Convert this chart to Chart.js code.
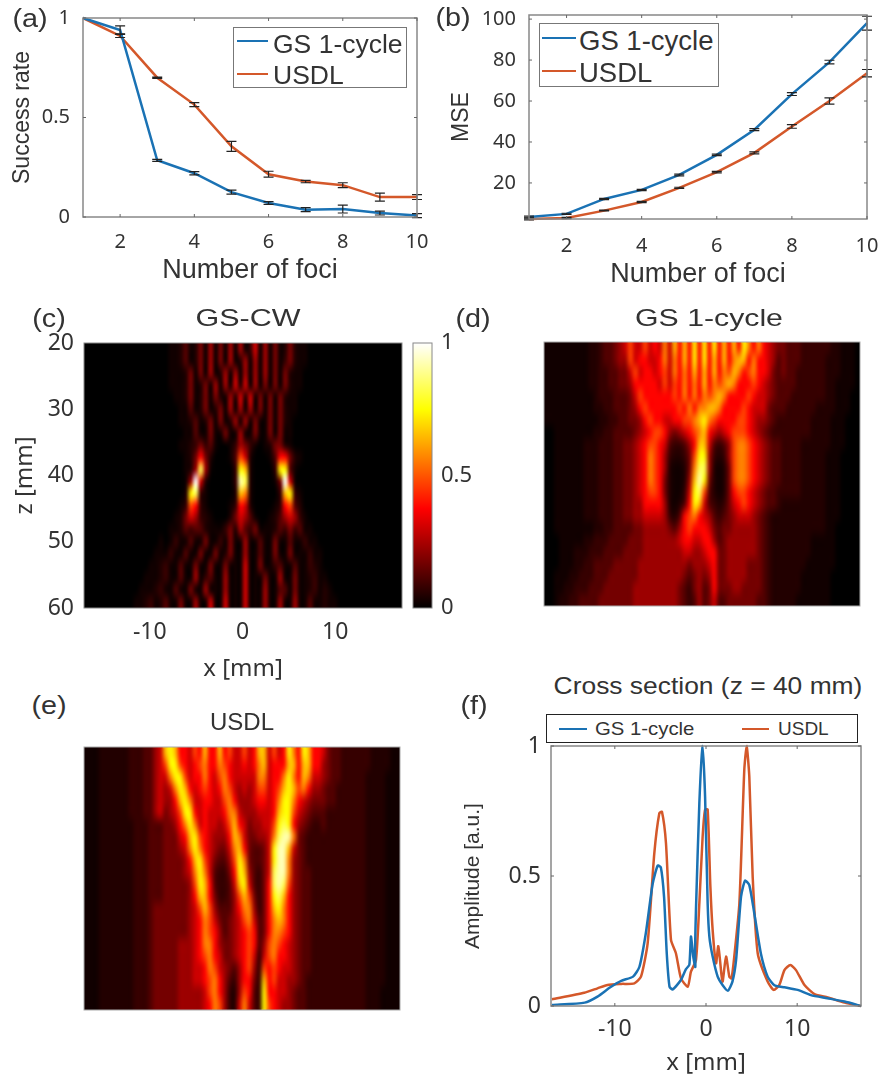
<!DOCTYPE html>
<html lang="en">
<head>
  <meta charset="UTF-8" />
  <title>Multi-foci beam patterns</title>
  <script src="https://cdn.jsdelivr.net/npm/chart.js"></script>
  <style>
    body { margin: 0; background: #fff; overflow: hidden; }
    #figure { position: relative; width: 883px; height: 1080px; color: #333; font-family: 'Liberation Sans', sans-serif; overflow: hidden; }
    #figure canvas { position: absolute; }
    .txt { position: absolute; white-space: nowrap; line-height: 1; }
    .legend { position: absolute; box-sizing: border-box; background: #fff; }
    .swatch { position: absolute; }
  </style>
</head>
<body>
  <div id="figure"></div>

  <script>
    // (a) success rate and (b) MSE against number of foci
    const fociCounts = [1, 2, 3, 4, 5, 6, 7, 8, 9, 10];
    const fociTicks = [2, 4, 6, 8, 10];

    const rateTicks = [0, 0.5, 1];
    const rateGs = [1, 0.94, 0.285, 0.22, 0.125, 0.07, 0.037, 0.04, 0.02, 0.007];
    const rateGsErr = [0, 0.02, 0.005, 0.008, 0.01, 0.007, 0.01, 0.02, 0.01, 0.01];
    const rateUsdl = [1, 0.91, 0.70, 0.565, 0.355, 0.215, 0.178, 0.16, 0.1, 0.1];
    const rateUsdlErr = [0, 0.008, 0.003, 0.01, 0.025, 0.015, 0.006, 0.012, 0.02, 0.012];

    const mseTicks = [20, 40, 60, 80, 100];
    const mseGs = [3.4, 4.9, 12.2, 16.6, 23.9, 33.7, 46, 63.4, 79, 98];
    const mseGsErr = [0.4, 0.3, 0.3, 0.3, 0.4, 0.4, 0.5, 0.7, 0.9, 3.4];
    const mseUsdl = [2.4, 2.9, 6.5, 10.7, 17.6, 25.3, 34.7, 47.6, 60, 73.6];
    const mseUsdlErr = [0.4, 0.3, 0.2, 0.3, 0.3, 0.4, 0.5, 0.9, 1.5, 1.8];

    // (c)(d)(e) field maps, one string per z row, one hex digit per x column.
    // A digit is an index into mapLevels, finer near zero where the dark reds sit.
    const mapLevels = [0, 0.025, 0.05, 0.08, 0.12, 0.17, 0.23, 0.3, 0.38, 0.47, 0.56, 0.65, 0.74, 0.83, 0.92, 1];
    const cwRows = [
      "00000000 00000000 01124125 16151616 13716151 25211000 00000000 00000000",
      "00000000 00000000 01124125 16151612 61616151 35211000 00000000 00000000",
      "00000000 00000000 01112515 16126161 61616151 52110000 00000000 00000000",
      "00000000 00000000 01112512 51616172 71615151 52110000 00000000 00000000",
      "00000000 00000000 00112512 51521627 27151515 21100000 00000000 00000000",
      "00000000 00000000 00011412 51251616 16151515 21100000 00000000 00000000",
      "00000000 00000000 00011241 25151261 61511515 21000000 00000000 00000000",
      "00000000 00000000 00001141 15115116 11511515 11000000 00000000 00000000",
      "00000000 00000000 00011235 34100136 53101255 21000000 00000000 00000000",
      "00000000 00000000 00001258 52000149 72000148 85210000 00000000 00000000",
      "00000000 00000000 0000126d 6100003c b200003c c4100000 00000000 00000000",
      "00000000 00000000 000016f7 2000003e d2000015 f7100000 00000000 00000000",
      "00000000 00000000 00002cd3 1000002b a2000003 bc310000 00000000 00000000",
      "00000000 00000000 00013983 10000138 72000013 89420000 00000000 00000000",
      "00000000 00000000 00125763 21000257 64100124 67631000 00000000 00000000",
      "00000000 00000000 01124344 21113526 43511124 35341100 00000000 00000000",
      "00000000 00000001 01311411 51131511 61141151 14113110 00000000 00000000",
      "00000000 00000011 13114115 11512511 61141151 15111311 00000000 00000000",
      "00000000 00000112 31141151 15115111 71151134 11411321 00000000 00000000",
      "00000000 00001112 31141161 34116111 71115116 11511231 10000000 00000000",
      "00000000 00011123 11411511 61116111 71116114 41511231 21000000 00000000",
      "00000000 00112312 41151161 17117111 71116116 11611411 21100000 00000000"
    ];
    const gsRows = [
      "11111111 12234456 79779787 a7b8b8c8 c8c8b8b8 ca8a8765 54443333 33221110",
      "11111111 12234456 69788778 a7a8b8c8 c8b8b8ab b8a88764 54443333 32221110",
      "11111111 12233445 57978878 97a8a8b8 b8b8a9ba 89a88754 54433333 32221110",
      "11111111 12233445 56888887 9798a8a8 b8a9aba8 88987654 44433333 32211110",
      "11111111 11233344 45798888 8898a8a8 a9aba888 89877654 44333333 32211100",
      "11111111 11223344 45689888 88898a8a abba8888 98777544 43333332 22211100",
      "11111111 11122334 45568988 778899ab ca988889 98766543 33333322 22111000",
      "00111111 11223344 44567899 8656789a b8767899 98765433 33333322 22111000",
      "00111111 22233344 55678998 7433468b b743469a a9876544 33332222 22111000",
      "00111111 22233344 55678a98 6322359c c632369a a9876544 33332222 21110000",
      "00111111 22233344 55678a98 621125ad d621259a a9876544 33332222 21110000",
      "00111111 22233344 55678a98 521126be c521259a a9876544 33332222 21110000",
      "00111111 22233344 55678998 521137cd 94212589 98765443 33332222 21110000",
      "00111111 22233344 55668888 621248cb 74323578 98765443 22222222 21110000",
      "00111111 22233344 55667777 632489a8 76434567 77654322 22222222 21110000",
      "00111111 11223344 44556666 65468988 87545566 66654322 22222222 21100000",
      "00011111 22333444 45556666 66678877 88645666 66654322 22222211 11100000",
      "00011122 23334444 55556666 66667766 78855666 66654322 22222211 11100000",
      "00011122 33444455 55566666 66666566 67855666 65554322 22222111 11100000",
      "00111223 33444555 55566666 66665456 56855666 65554322 22221111 11000000",
      "00112233 34445555 55666666 66654356 45855566 55554322 22221111 11000000",
      "00122334 44455555 55666666 66654346 45744555 55544322 22211111 11000000"
    ];
    const usdlRows = [
      "11122222 23334467 bcb88798 b88b8977 978bb797 8ca8cb88 75443333 33222211",
      "11122222 23334467 9cc98789 a88a9877 878ab788 8bb8bb88 65443333 33222211",
      "11122222 23334467 7acc9788 a879a877 777aa788 aca8ba77 65443333 32222111",
      "11122222 23334467 67acb878 9878a976 76799789 bcb9a866 54433333 32222111",
      "11122222 23334467 668bca77 88779a86 6678878a cca87655 54433333 32222111",
      "11122222 23334467 5679cc87 87778aa7 6667778b cc976544 43333333 32222111",
      "11122222 22333444 5568aca7 877679b8 7566779c dc865433 43333333 32222111",
      "11122222 22333444 55578bc9 876668ba 755667ad eea54333 33333333 32222111",
      "11122222 22333444 55567aca 876557ab 854457ce eb754333 33333333 32222111",
      "11122222 22333444 555568bc 9754469c a54457ce ea654333 33333333 32222111",
      "11122222 22333444 555567ac a743358c b64357de ea654433 33333333 32222111",
      "11122222 22333444 5555569c b843347b c74358de d9654433 33333333 32222111",
      "11122222 22333444 5555568b b8533469 b95358cd b8654433 33333333 32222111",
      "11122222 22333455 55555679 b9644468 aa6358bc a8654433 33333333 32222111",
      "11122222 22333455 55555678 a9754567 9a7458ab a8654433 33333333 32222111",
      "11122222 22333455 55555678 a9864567 898458aa 98654433 33333333 32222111",
      "11122222 22333455 55566678 aa865567 898469a9 87654433 33333333 32222111",
      "11122222 22333455 55566678 9a875567 897379a8 87654433 33333333 32222111",
      "11122222 22333455 55566677 8a976546 89639898 77654433 33333333 32222111",
      "11122222 22333455 55566677 89a86436 8853b897 76654333 33333333 32222111",
      "11122222 22333455 55566666 79a86326 9843c887 76544333 33333333 32221111",
      "11122222 22333455 55566666 78a96327 a743c987 66544333 33333333 32221111"
    ];
    const mapXTicks = [-10, 0, 10];
    const mapZTicks = [20, 30, 40, 50, 60];
    const colorbarTicks = [0, 0.5, 1];

    // (f) cross section at z = 40 mm
    const sectionXTicks = [-10, 0, 10];
    const sectionYTicks = [0, 0.5, 1];
    const sectionGsX = [-16.9, -13.3, -11.9, -10.5, -9.3, -8, -7.3, -6.6, -5.85, -5.3, -4.95, -4.6, -4.3, -4, -3.65, -2.75, -2.2, -1.83, -1.65, -1.4, -1.17, -1.2, -1.1, -0.73, -0.37, -0.1, 0.18, 0.37, 0.73, 1.28, 1.83, 2.4, 2.9, 3.3, 3.84, 4.28, 4.75, 5.3, 6.03, 6.76, 7.5, 8.6, 10.05, 11.5, 13.3, 15.2, 17];
    const sectionGsY = [0.004, 0.013, 0.036, 0.072, 0.097, 0.113, 0.151, 0.28, 0.47, 0.54, 0.533, 0.42, 0.2, 0.074, 0.064, 0.1, 0.142, 0.158, 0.267, 0.19, 0.15, 0.22, 0.37, 0.78, 1, 0.805, 0.395, 0.267, 0.19, 0.113, 0.08, 0.059, 0.094, 0.177, 0.42, 0.482, 0.465, 0.356, 0.2, 0.113, 0.08, 0.072, 0.062, 0.042, 0.03, 0.017, 0];
    const sectionUsdlX = [-16.9, -13.35, -11.9, -10.8, -9.3, -7.86, -7.13, -6.4, -5.67, -5.12, -4.83, -4.39, -3.84, -3.3, -2.74, -2, -1.65, -1.1, -0.73, -0.37, -0.11, 0.18, 0.48, 0.73, 1.1, 1.35, 1.72, 1.83, 2.2, 2.56, 2.8, 3.1, 3.66, 4.2, 4.46, 4.75, 5.12, 5.67, 6.76, 7.42, 8.04, 8.6, 9.25, 9.87, 10.8, 11.9, 13.35, 15.2, 17];
    const sectionUsdlY = [0.026, 0.051, 0.068, 0.081, 0.085, 0.087, 0.113, 0.241, 0.587, 0.741, 0.747, 0.626, 0.254, 0.203, 0.106, 0.074, 0.132, 0.177, 0.395, 0.651, 0.754, 0.756, 0.459, 0.292, 0.164, 0.23, 0.113, 0.094, 0.19, 0.113, 0.106, 0.19, 0.395, 0.908, 1, 0.882, 0.497, 0.203, 0.094, 0.062, 0.081, 0.138, 0.158, 0.138, 0.081, 0.046, 0.033, 0.013, 0];

    const BLUE = '#1a72b4';
    const ORANGE = '#d4582a';
    const figure = document.getElementById('figure');

    // Matlab "hot" colormap
    function hot(v) {
      const c = (a, b) => Math.round(255 * Math.min(1, Math.max(0, (v - a) / (b - a))));
      return `rgb(${c(0, 0.375)},${c(0.375, 0.75)},${c(0.75, 1)})`;
    }

    // Plot frame with small inward ticks on every side
    const framePlugin = {
      id: 'frame',
      afterDraw(chart, args, opts) {
        const { ctx, chartArea: a, scales } = chart;
        ctx.save();
        ctx.strokeStyle = opts.color || '#888';
        ctx.lineWidth = opts.width || 1.5;
        ctx.strokeRect(a.left, a.top, a.right - a.left, a.bottom - a.top);
        if (opts.ticks) {
          ctx.lineWidth = 1;
          ctx.strokeStyle = '#666';
          ctx.beginPath();
          scales.x.ticks.forEach(t => {
            const px = scales.x.getPixelForValue(t.value);
            ctx.moveTo(px, a.bottom); ctx.lineTo(px, a.bottom - 3);
            ctx.moveTo(px, a.top); ctx.lineTo(px, a.top + 3);
          });
          scales.y.ticks.forEach(t => {
            const py = scales.y.getPixelForValue(t.value);
            ctx.moveTo(a.left, py); ctx.lineTo(a.left + 3, py);
            ctx.moveTo(a.right, py); ctx.lineTo(a.right - 3, py);
          });
          ctx.stroke();
        }
        ctx.restore();
      }
    };

    // Error bars read from each dataset's errs array
    const errorBarPlugin = {
      id: 'errorBars',
      afterDatasetsDraw(chart) {
        const { ctx, scales } = chart;
        ctx.save();
        ctx.strokeStyle = '#222';
        ctx.lineWidth = 1.2;
        chart.data.datasets.forEach(ds => {
          ds.data.forEach((p, i) => {
            const e = ds.errs[i];
            if (!e) return;
            const px = scales.x.getPixelForValue(p.x);
            const y0 = scales.y.getPixelForValue(p.y - e);
            const y1 = scales.y.getPixelForValue(p.y + e);
            ctx.beginPath();
            ctx.moveTo(px, y0); ctx.lineTo(px, y1);
            ctx.moveTo(px - 5, y0); ctx.lineTo(px + 5, y0);
            ctx.moveTo(px - 5, y1); ctx.lineTo(px + 5, y1);
            ctx.stroke();
          });
        });
        ctx.restore();
      }
    };

    // The source maps are interpolated images, so soften the drawn cells the same way
    const smoothCellsPlugin = {
      id: 'smoothCells',
      afterDatasetsDraw(chart, args, opts) {
        const { ctx, chartArea: a } = chart;
        const w = a.right - a.left, h = a.bottom - a.top;
        const small = document.createElement('canvas');
        small.width = opts.cols;
        small.height = opts.rows;
        const sctx = small.getContext('2d');
        sctx.imageSmoothingEnabled = false;
        sctx.drawImage(ctx.canvas, a.left, a.top, w, h, 0, 0, opts.cols, opts.rows);
        ctx.save();
        ctx.beginPath();
        ctx.rect(a.left, a.top, w, h);
        ctx.clip();
        ctx.imageSmoothingEnabled = true;
        ctx.imageSmoothingQuality = 'high';
        ctx.filter = `blur(${opts.blur}px)`;
        ctx.drawImage(small, 0, 0, opts.cols, opts.rows, a.left, a.top, w, h);
        ctx.restore();
      }
    };

    // Put a chart on the page so that its plot area lands on box l/t/r/b
    function place(id, box, m, config) {
      const canvas = document.createElement('canvas');
      canvas.id = id;
      canvas.width = box.r - box.l + m.l + m.r;
      canvas.height = box.b - box.t + m.t + m.b;
      canvas.style.left = (box.l - m.l) + 'px';
      canvas.style.top = (box.t - m.t) + 'px';
      figure.appendChild(canvas);
      config.options.responsive = false;
      config.options.animation = false;
      config.options.devicePixelRatio = 1;
      config.options.events = [];
      return new Chart(canvas.getContext('2d'), config);
    }

    function axis(min, max, ticks, opts) {
      const o = opts || {};
      const scale = {
        type: 'linear',
        min, max,
        offset: false,
        reverse: !!o.reverse,
        position: o.position,
        display: o.display !== false,
        grid: { display: false, drawTicks: false },
        border: { display: false },
        ticks: {
          autoSkip: false, maxRotation: 0, padding: o.padding, color: '#333',
          font: { family: "'Noto Sans', sans-serif", size: o.tickSize || 20 },
          callback: v => String(v)
        },
        afterBuildTicks: s => { s.ticks = ticks.map(value => ({ value })); }
      };
      if (o.title) {
        scale.title = { display: true, text: o.title, color: '#333', padding: 0, font: { family: o.titleFamily || "'Liberation Sans', sans-serif", size: o.titleSize } };
      }
      if (o.fit) {
        scale.afterFit = s => {
          if (s.isHorizontal()) s.height = o.fit; else s.width = o.fit;
        };
      }
      return scale;
    }

    function xy(xs, ys) {
      return xs.map((x, i) => ({ x, y: ys[i] }));
    }

    function curveSet(label, xs, ys, errs, color) {
      return { label, data: xy(xs, ys), errs, borderColor: color, backgroundColor: color, borderWidth: 2.5, pointRadius: 0, clip: 6 };
    }

    function linePanel(id, box, m, xPad, yMin, yMax, yTicks, yTitle, gs, gsErr, usdl, usdlErr) {
      place(id, box, m, {
        type: 'line',
        data: { datasets: [
          curveSet('GS 1-cycle', fociCounts, gs, gsErr, BLUE),
          curveSet('USDL', fociCounts, usdl, usdlErr, ORANGE)
        ] },
        options: {
          layout: { padding: { top: m.t, right: m.r } },
          plugins: { legend: { display: false }, frame: { ticks: true } },
          scales: {
            x: axis(1, 10, fociTicks, { title: 'Number of foci', titleSize: 27, fit: m.b, padding: xPad }),
            y: axis(yMin, yMax, yTicks, { title: yTitle, titleSize: 23, fit: m.l, padding: 13 })
          }
        },
        plugins: [framePlugin, errorBarPlugin]
      });
    }

    // Field map: one floating bar per cell, one dataset per z row
    function mapPanel(id, box, m, rows, withAxes, blur) {
      const grid = rows.map(r => r.replace(/\s/g, ''));
      const cols = grid[0].length;
      const rowCount = grid.length;
      const labels = Array.from({ length: cols }, (_, i) => String(i));
      const zMin = mapZTicks[0], zMax = mapZTicks[mapZTicks.length - 1];
      const datasets = grid.map((row, r) => {
        const z0 = zMin + (zMax - zMin) * r / rowCount;
        const z1 = zMin + (zMax - zMin) * (r + 1) / rowCount;
        return {
          data: labels.map(() => [z0, z1]),
          backgroundColor: labels.map((_, c) => hot(mapLevels[parseInt(row[c] || '0', 16)])),
          borderWidth: 0,
          grouped: false,
          barPercentage: 1,
          categoryPercentage: 1,
          xAxisID: 'xCells'
        };
      });
      place(id, box, m, {
        type: 'bar',
        data: { labels, datasets },
        options: {
          layout: { padding: { top: m.t, right: m.r, left: withAxes ? 0 : m.l, bottom: withAxes ? 0 : m.b } },
          plugins: {
            legend: { display: false },
            frame: { color: withAxes ? '#888' : '#aaa', width: 1 },
            smoothCells: { cols, rows: rowCount, blur }
          },
          scales: {
            xCells: { type: 'category', display: false, position: 'bottom', grid: { display: false } },
            x: axis(-17.1, 17.2, mapXTicks, { display: withAxes, title: 'x [mm]', titleFamily: "'Noto Sans', sans-serif", titleSize: 24, tickSize: 23, fit: m.b, padding: 11, position: 'bottom' }),
            y: axis(zMin, zMax, mapZTicks, { display: withAxes, reverse: true, title: 'z [mm]', titleFamily: "'Noto Sans', sans-serif", titleSize: 24, tickSize: 23, fit: m.l, padding: 10 })
          }
        },
        plugins: [smoothCellsPlugin, framePlugin]
      });
    }

    function colorbar(id, box, m) {
      place(id, box, m, {
        type: 'bar',
        data: { labels: ['level'], datasets: [{
          data: [[0, 1]],
          borderWidth: 0,
          barPercentage: 1,
          categoryPercentage: 1,
          backgroundColor: c => {
            const { chartArea, scales, ctx } = c.chart;
            if (!chartArea) return '#000';
            const g = ctx.createLinearGradient(0, scales.y.getPixelForValue(0), 0, scales.y.getPixelForValue(1));
            g.addColorStop(0, '#000');
            g.addColorStop(0.375, '#f00');
            g.addColorStop(0.75, '#ff0');
            g.addColorStop(1, '#fff');
            return g;
          }
        }] },
        options: {
          layout: { padding: { top: m.t, bottom: m.b, left: m.l } },
          plugins: { legend: { display: false }, frame: { color: '#888', width: 1 } },
          scales: {
            x: { display: false, grid: { display: false } },
            y: axis(0, 1, colorbarTicks, { position: 'right', fit: m.r, padding: 9, tickSize: 22 })
          }
        },
        plugins: [framePlugin]
      });
    }

    function text(str, cx, cy, size, stretch, family, anchor) {
      const el = document.createElement('div');
      el.className = 'txt';
      el.textContent = str;
      el.style.left = cx + 'px';
      el.style.top = cy + 'px';
      el.style.fontSize = size + 'px';
      if (family) el.style.fontFamily = family;
      el.style.transformOrigin = anchor === 'left' ? 'left center' : 'center center';
      el.style.transform = (anchor === 'left' ? 'translate(0,-50%)' : 'translate(-50%,-50%)') + ` scaleX(${stretch || 1})`;
      figure.appendChild(el);
    }

    function legendBox(l, t, r, b, border) {
      const el = document.createElement('div');
      el.className = 'legend';
      el.style.left = l + 'px';
      el.style.top = t + 'px';
      el.style.width = (r - l) + 'px';
      el.style.height = (b - t) + 'px';
      el.style.border = border;
      figure.appendChild(el);
    }

    function swatch(l, r, y, color, weight) {
      const el = document.createElement('div');
      el.className = 'swatch';
      el.style.left = l + 'px';
      el.style.top = (y - weight / 2) + 'px';
      el.style.width = (r - l) + 'px';
      el.style.height = weight + 'px';
      el.style.background = color;
      figure.appendChild(el);
    }

    linePanel('rateChart', { l: 83, t: 18, r: 417, b: 217 }, { l: 74, t: 32, r: 34, b: 70 }, 13, 0, 1, rateTicks, 'Success rate', rateGs, rateGsErr, rateUsdl, rateUsdlErr);
    linePanel('mseChart', { l: 529, t: 15, r: 867, b: 219 }, { l: 81, t: 32, r: 34, b: 72 }, 15, 2.4, 102, mseTicks, 'MSE', mseGs, mseGsErr, mseUsdl, mseUsdlErr);

    mapPanel('cwMap', { l: 84, t: 343, r: 402, b: 608 }, { l: 73, t: 32, r: 34, b: 76 }, cwRows, true, 0.7);
    colorbar('cwBar', { l: 413, t: 343, r: 432, b: 608 }, { l: 2, t: 32, r: 45, b: 32 });
    mapPanel('gsMap', { l: 542, t: 342, r: 860, b: 608 }, { l: 2, t: 2, r: 2, b: 2 }, gsRows, false, 1.2);
    mapPanel('usdlMap', { l: 82, t: 747, r: 400, b: 1012 }, { l: 2, t: 2, r: 2, b: 2 }, usdlRows, false, 1.2);

    place('sectionChart', { l: 551, t: 746, r: 861, b: 1006 }, { l: 90, t: 32, r: 34, b: 72 }, {
      type: 'scatter',
      data: { datasets: [
        Object.assign(curveSet('GS 1-cycle', sectionGsX, sectionGsY, [], BLUE), { showLine: true, tension: 0.2 }),
        Object.assign(curveSet('USDL', sectionUsdlX, sectionUsdlY, [], ORANGE), { showLine: true, tension: 0.2 })
      ] },
      options: {
        layout: { padding: { top: 32, right: 34 } },
        plugins: { legend: { display: false }, frame: { ticks: true } },
        scales: {
          x: axis(-17, 17, sectionXTicks, { title: 'x [mm]', titleFamily: "'Noto Sans', sans-serif", titleSize: 24, tickSize: 23, fit: 72, padding: 10 }),
          y: axis(0, 1, sectionYTicks, { title: 'Amplitude [a.u.]', titleSize: 21, tickSize: 23, fit: 90, padding: 10 })
        }
      },
      plugins: [framePlugin]
    });

    // Panel tags and titles
    text('(a)', 30, 18, 25, 1.15);
    text('(b)', 453, 17, 25, 1.15);
    text('(c)', 49, 318, 25, 1.15);
    text('(d)', 473, 318, 25, 1.15);
    text('(e)', 49, 705, 25, 1.15);
    text('(f)', 474, 705, 25, 1.15);
    text('GS-CW', 248, 318, 24, 1.27);
    text('GS 1-cycle', 709, 318, 24, 1.26);
    text('USDL', 242, 722, 24, 1.0);
    text('Cross section (z = 40 mm)', 708, 686, 24, 1.1);

    // Legends
    legendBox(233, 27, 407, 88, '1.5px solid #777');
    swatch(237, 268, 41, BLUE, 2.5);
    swatch(237, 268, 74, ORANGE, 2.5);
    text('GS 1-cycle', 273, 44, 26.5, 1, null, 'left');
    text('USDL', 273, 75, 26.5, 1, null, 'left');

    legendBox(539, 23, 719, 87, '1.5px solid #777');
    swatch(542, 576, 38, BLUE, 2.5);
    swatch(542, 576, 71, ORANGE, 2.5);
    text('GS 1-cycle', 579, 41, 27.5, 1, null, 'left');
    text('USDL', 579, 73, 27.5, 1, null, 'left');

    legendBox(546, 714, 858, 743, '1.5px solid #222');
    swatch(559, 587, 729, BLUE, 2.5);
    swatch(742, 769, 729, ORANGE, 2.5);
    text('GS 1-cycle', 595, 728, 19, 1.07, null, 'left');
    text('USDL', 778, 728, 19, 1, null, 'left');
  </script>
</body>
</html>
